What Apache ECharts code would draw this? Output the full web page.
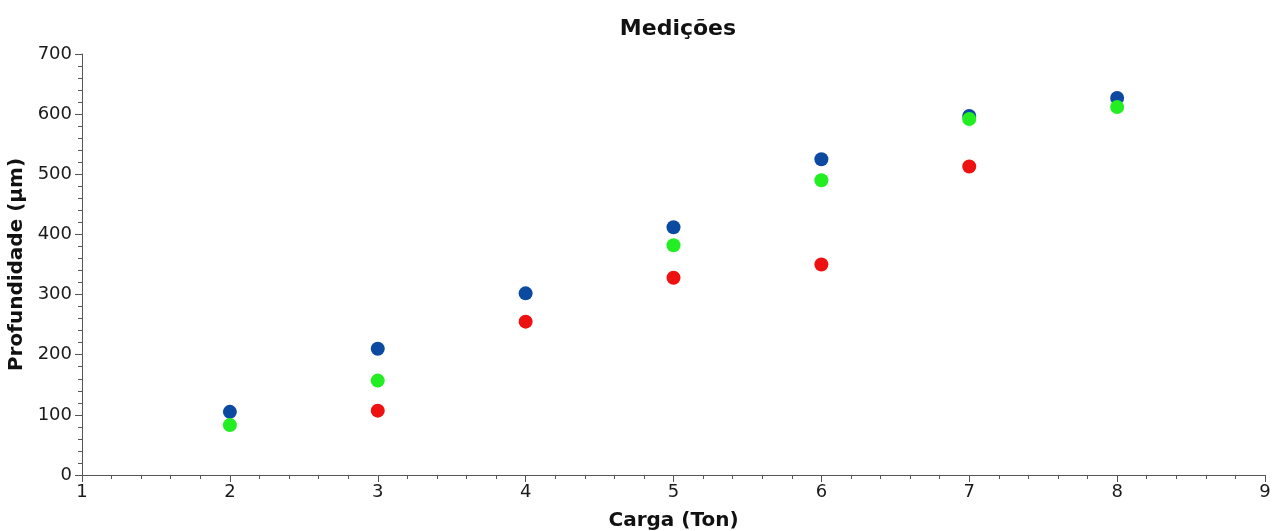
<!DOCTYPE html>
<html><head><meta charset="utf-8">
<script src="https://cdn.jsdelivr.net/npm/echarts@6/dist/echarts.min.js"></script>
<style>html,body{margin:0;padding:0;background:#fff}#c{width:1278px;height:531px}</style>
</head><body><div id="c"></div>
<script>
var xValues = [2, 3, 4, 5, 6, 7, 8];
var blueValues = [105, 210, 302, 412, 525, 597, 627];
var redValues = [null, 107, 255, 328, 350, 513, null];
var greenValues = [83, 157, null, 382, 490, 592, 612];
var titleText = 'Medições';
var xName = 'Carga (Ton)';
var yName = 'Profundidade (µm)';

function pairs(vals){ var o=[]; for (var i=0;i<xValues.length;i++){ if (vals[i]!=null) o.push([xValues[i], vals[i]]); } return o; }

var font = 'DejaVu Sans, Verdana, sans-serif';
var chart = echarts.init(document.getElementById('c'));
chart.setOption({
  animation: false,
  title: { text: titleText, left: 673, top: 13, textAlign: 'center',
    textStyle: { fontFamily: font, fontWeight: 'bold', fontSize: 22, color: '#111' } },
  grid: { left: 82, right: 13, top: 54, bottom: 56, containLabel: false, outerBoundsMode: 'none' },
  xAxis: { type: 'value', min: 1, max: 9, interval: 1,
    name: xName, nameLocation: 'middle', nameGap: 36,
    nameTextStyle: { fontFamily: font, fontWeight: 'bold', fontSize: 20, color: '#111' },
    axisLine: { show: true, lineStyle: { color: '#555', width: 1 } },
    axisTick: { show: true, length: 7, lineStyle: { color: '#555' } },
    minorTick: { show: true, splitNumber: 5, length: 4, lineStyle: { color: '#555' } },
    splitLine: { show: false },
    axisLabel: { margin: 8, fontFamily: font, fontSize: 18, color: '#1a1a1a' } },
  yAxis: { type: 'value', min: 0, max: 700, interval: 100,
    name: yName, nameLocation: 'middle', nameGap: 49,
    nameTextStyle: { fontFamily: font, fontWeight: 'bold', fontSize: 20, color: '#111' },
    axisLine: { show: true, lineStyle: { color: '#555', width: 1 } },
    axisTick: { show: true, length: 7, lineStyle: { color: '#555' } },
    minorTick: { show: true, splitNumber: 5, length: 4, lineStyle: { color: '#555' } },
    splitLine: { show: false },
    axisLabel: { margin: 10, fontFamily: font, fontSize: 18, color: '#1a1a1a' } },
  series: [
    { type: 'scatter', data: pairs(blueValues), symbolSize: 14, itemStyle: { color: '#0b4aa0', opacity: 1 } },
    { type: 'scatter', data: pairs(redValues), symbolSize: 14, itemStyle: { color: '#ee1111', opacity: 1 } },
    { type: 'scatter', data: pairs(greenValues), symbolSize: 14, itemStyle: { color: '#22ee22', opacity: 1 } }
  ]
});
</script></body></html>
